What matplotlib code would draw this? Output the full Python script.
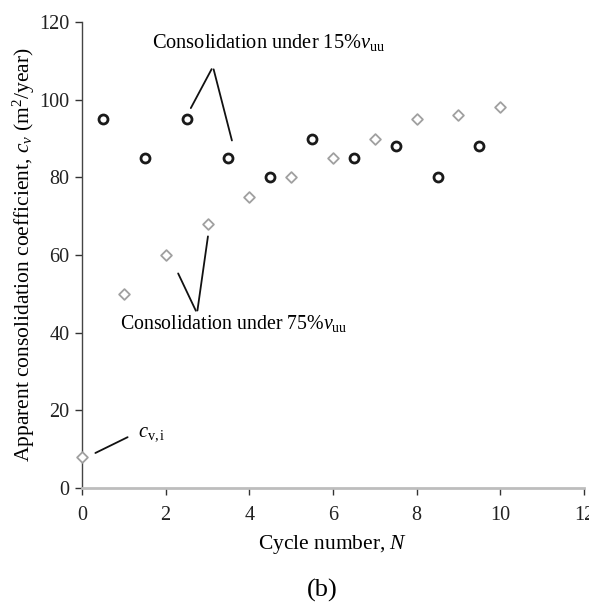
import matplotlib
matplotlib.use("Agg")
import matplotlib.pyplot as plt

plt.rcParams["font.family"] = ["Liberation Serif", "DejaVu Serif"]
plt.rcParams["mathtext.fontset"] = "custom"
plt.rcParams["mathtext.rm"] = "Liberation Serif"
plt.rcParams["mathtext.it"] = "Liberation Serif:italic"
plt.rcParams["mathtext.bf"] = "Liberation Serif:bold"

# Apparent cv during consolidation stages
cycles_15 = [0.5, 1.5, 2.5, 3.5, 4.5, 5.5, 6.5, 7.5, 8.5, 9.5]
cv_15 = [95, 85, 95, 85, 80, 90, 85, 88, 80, 88]

cycles_75 = [0, 1, 2, 3, 4, 5, 6, 7, 8, 9, 10]
cv_75 = [8, 50, 60, 68, 75, 80, 85, 90, 95, 96, 98]

x_ticks = [0, 2, 4, 6, 8, 10, 12]
y_ticks = [0, 20, 40, 60, 80, 100, 120]

W, H = 589, 607
fig = plt.figure(figsize=(W / 100, H / 100), dpi=100)
ax = fig.add_axes([82 / W, (H - 488) / H, 502 / W, 466 / H])

ax.scatter(cycles_75, cv_75, marker="D", s=30, facecolors="white",
           edgecolors="#a0a0a0", linewidths=1.3, zorder=3, clip_on=False)
ax.scatter(cycles_15, cv_15, marker="o", s=42, facecolors="white",
           edgecolors="#1a1a1a", linewidths=2.0, zorder=3, clip_on=False)

ax.set_xlim(0, 12)
ax.set_ylim(0, 120)
ax.set_xticks(x_ticks)
ax.set_yticks(y_ticks)
ax.tick_params(axis="both", labelsize=14.5, colors="#333333", length=5, width=1)
ax.tick_params(axis="x", pad=8)
ax.tick_params(axis="y", pad=4)
for lab in ax.get_xticklabels() + ax.get_yticklabels():
    lab.set_color("#222222")

ax.spines["top"].set_visible(False)
ax.spines["right"].set_visible(False)
ax.spines["left"].set_color("#444444")
ax.spines["left"].set_linewidth(1.0)
ax.spines["bottom"].set_color("#bdbdbd")
ax.spines["bottom"].set_linewidth(2.0)

ax.set_xlabel("Cycle number, $N$", fontsize=15.5, labelpad=6)
ax.set_ylabel("Apparent consolidation coefficient, $c_v$ (m$^2$/year)",
              fontsize=15.5, labelpad=1.5)

line_kw = dict(color="#111111", lw=1.3)
ann_size = 14.7

# labels pointing to the two consolidation stages
ax.annotate("", xy=(2.57, 97.2), xytext=(3.13, 108.5),
            arrowprops=dict(arrowstyle="-", **line_kw))
ax.annotate("", xy=(3.6, 88.8), xytext=(3.13, 108.5),
            arrowprops=dict(arrowstyle="-", **line_kw))
ax.text(4.47, 114.6, r"Consolidation under 15%$v_{\mathrm{uu}}$",
        fontsize=ann_size, ha="center", va="center")

ax.annotate("", xy=(2.27, 55.9), xytext=(2.75, 45.0),
            arrowprops=dict(arrowstyle="-", **line_kw))
ax.annotate("", xy=(3.02, 65.5), xytext=(2.75, 45.0),
            arrowprops=dict(arrowstyle="-", **line_kw))
ax.text(3.63, 42.3, r"Consolidation under 75%$v_{\mathrm{uu}}$",
        fontsize=14.3, ha="center", va="center")

ax.annotate("", xy=(0.26, 8.7), xytext=(1.15, 13.4),
            arrowprops=dict(arrowstyle="-", **line_kw))
ax.text(1.35, 14.0, r"$c_{\mathrm{v,i}}$", fontsize=ann_size, ha="left", va="center")

fig.text(322 / W, 1 - 590 / H, "(b)", fontsize=19, ha="center", va="center")

fig.savefig("out.png", dpi=100)
